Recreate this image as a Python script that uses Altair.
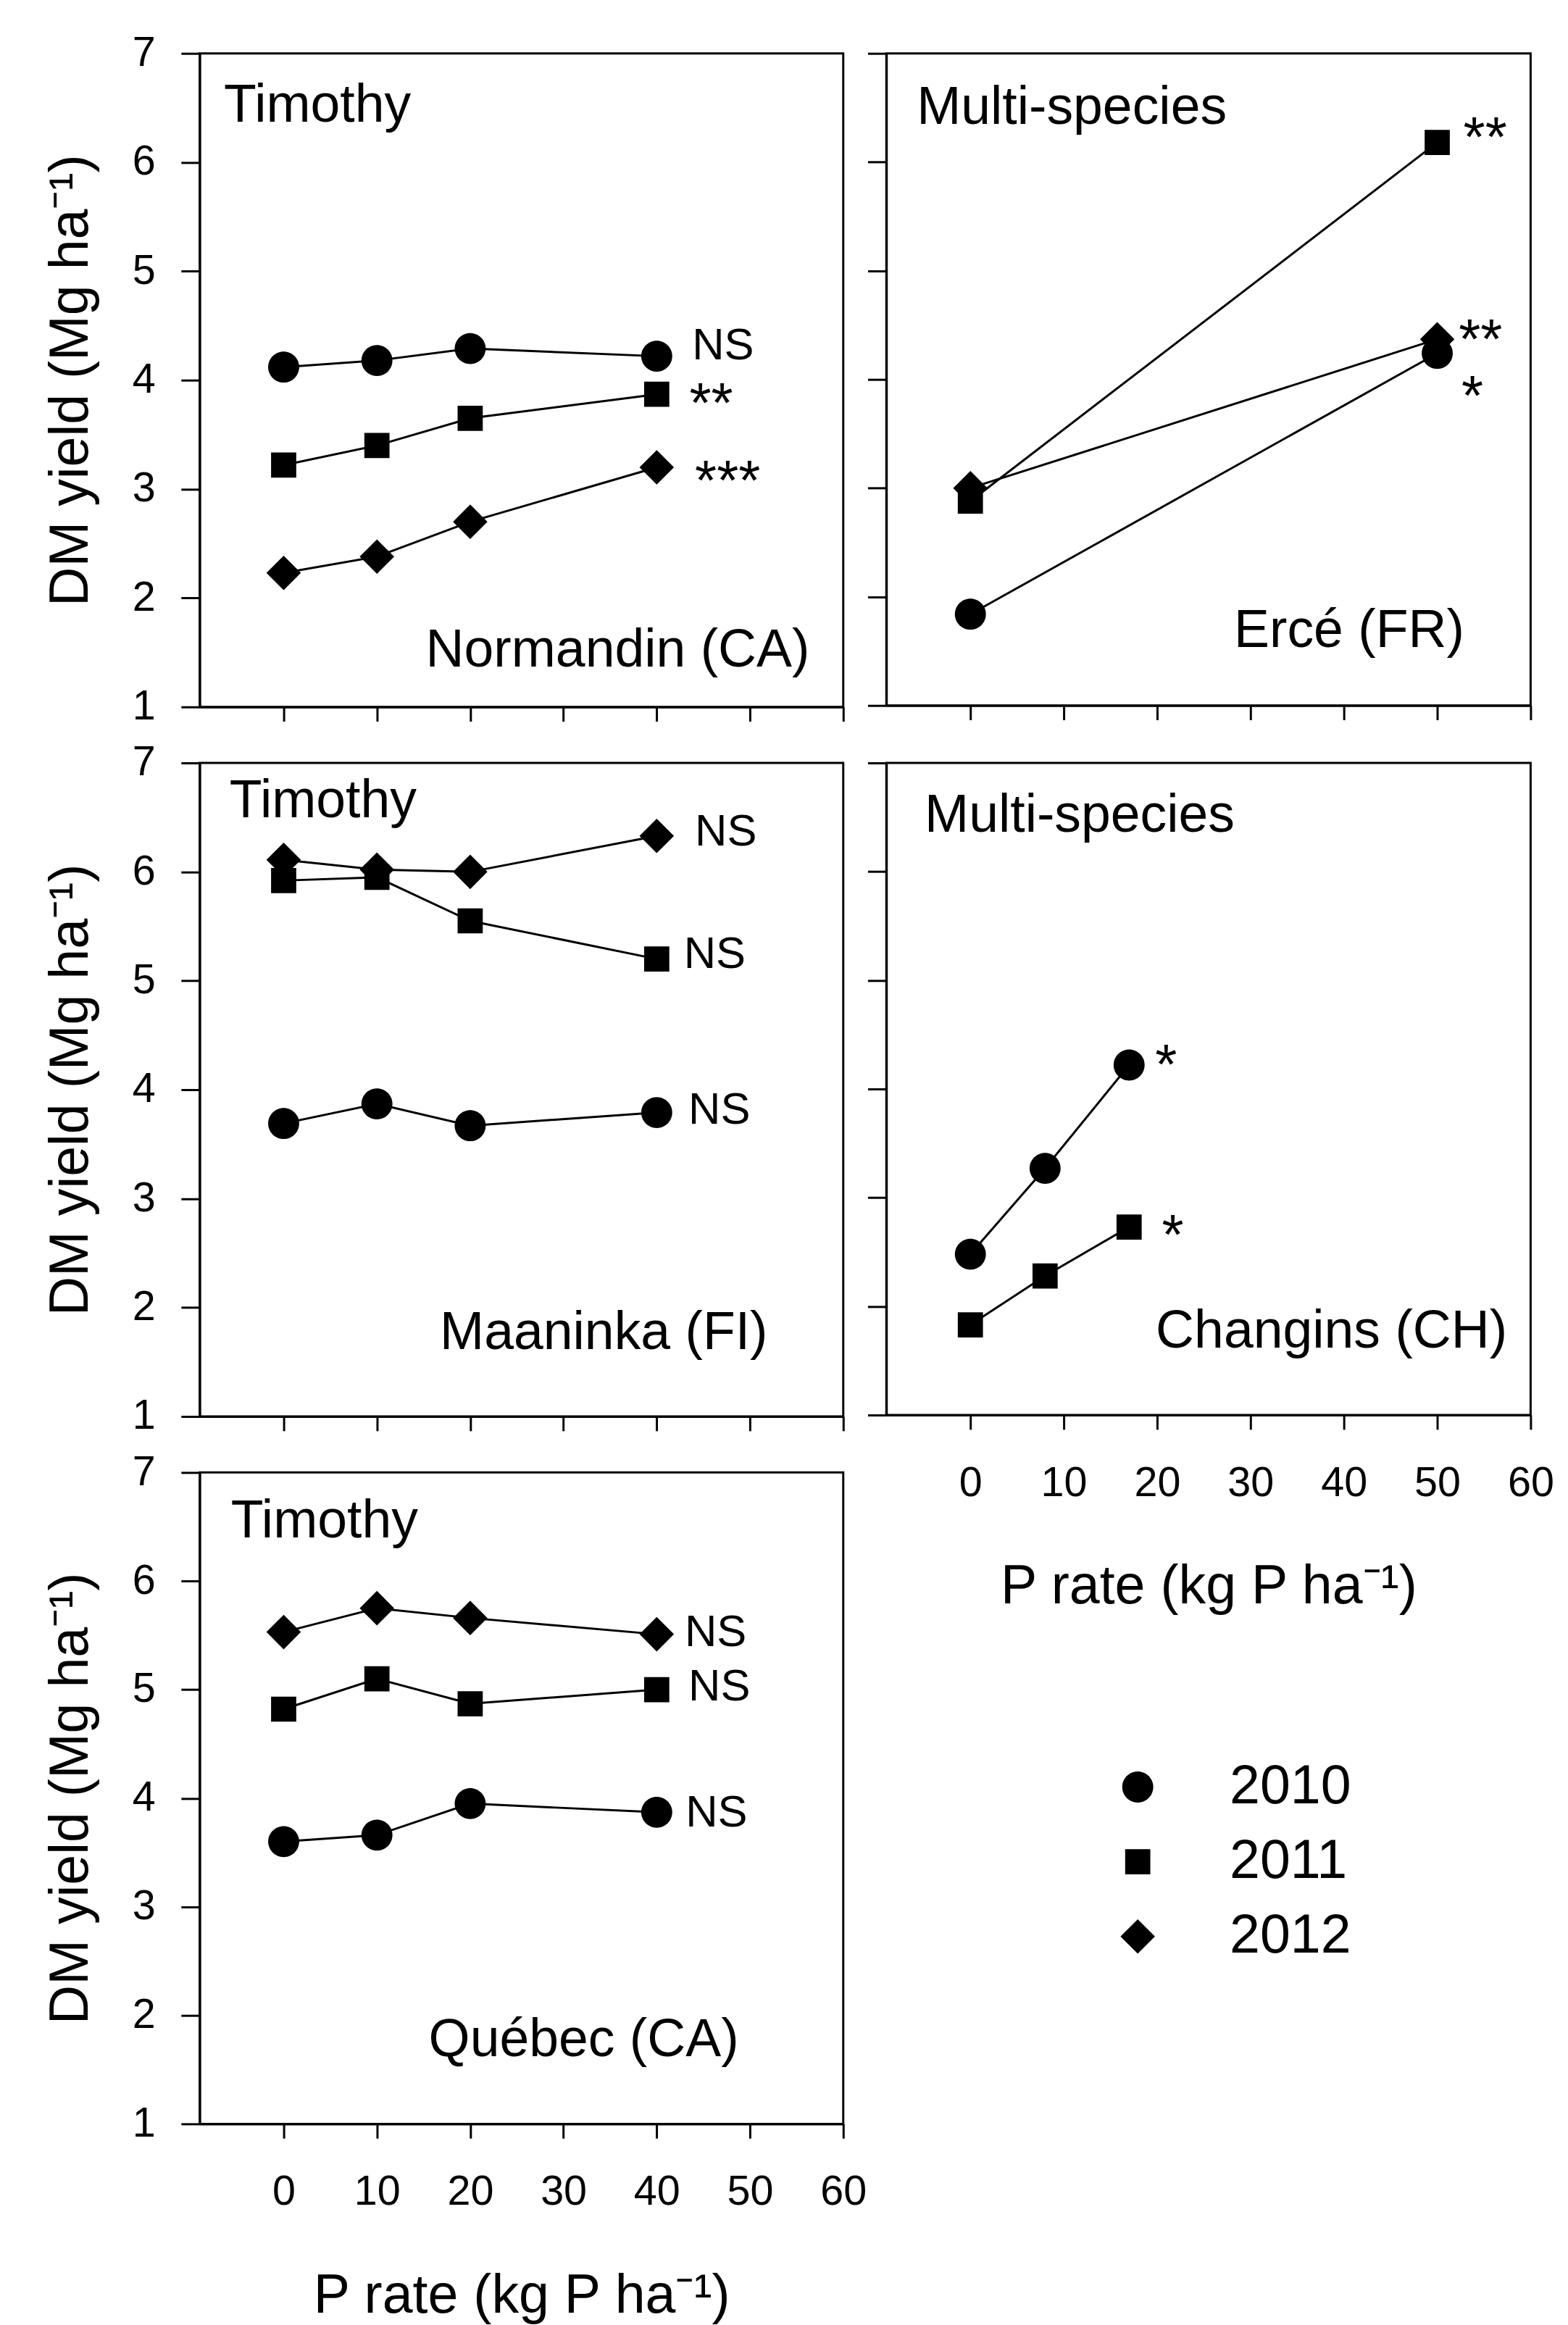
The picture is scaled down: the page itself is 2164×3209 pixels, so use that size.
import altair as alt
import pandas as pd

FONT = "Liberation Sans"
years = ["2010", "2011", "2012"]

# Normandin (CA) - Timothy
norm_p = [0, 10, 20, 40]
norm_2010 = [4.12, 4.18, 4.29, 4.22]
norm_2011 = [3.22, 3.40, 3.65, 3.87]
norm_2012 = [2.23, 2.38, 2.70, 3.20]
norm_sig = ["NS", "**", "***"]
norm_sig_x = [43.8, 43.5, 44.1]
norm_sig_y = [4.19, 3.61, 2.90]

# Ercé (FR) - Multi-species
erce_p = [0, 50]
erce_2010 = [1.84, 4.24]
erce_2011 = [2.88, 6.18]
erce_2012 = [3.00, 4.37]
erce_sig = ["*", "**", "**"]
erce_sig_x = [52.6, 52.8, 52.3]
erce_sig_y = [3.67, 6.05, 4.19]

# Maaninka (FI) - Timothy
maan_p = [0, 10, 20, 40]
maan_2010 = [3.69, 3.87, 3.67, 3.79]
maan_2011 = [5.92, 5.95, 5.55, 5.20]
maan_2012 = [6.11, 6.02, 6.00, 6.33]
maan_sig = ["NS", "NS", "NS"]
maan_sig_x = [43.4, 42.9, 44.1]
maan_sig_y = [3.69, 5.12, 6.24]

# Changins (CH) - Multi-species
chan_p = [0, 8, 17]
chan_2010 = [2.48, 3.27, 4.22]
chan_2011 = [1.83, 2.28, 2.73]
chan_sig = ["*", "*"]
chan_sig_x = [19.8, 20.5]
chan_sig_y = [4.05, 2.48]

# Québec (CA) - Timothy
queb_p = [0, 10, 20, 40]
queb_2010 = [3.60, 3.66, 3.95, 3.87]
queb_2011 = [4.82, 5.10, 4.87, 5.00]
queb_2012 = [5.53, 5.75, 5.66, 5.51]
queb_sig = ["NS", "NS", "NS"]
queb_sig_x = [43.1, 43.4, 43.0]
queb_sig_y = [3.74, 4.90, 5.40]

x_ticks = [0, 10, 20, 30, 40, 50, 60]
y_ticks = [1, 2, 3, 4, 5, 6, 7]
x_title = "P rate (kg P ha\u207b\u00b9)"
y_title = "DM yield (Mg ha\u207b\u00b9)"

# shapes: circle (smaller), square, diamond (full box)
circle_path = "M0.9,0A0.9,0.9,0,1,1,-0.9,0A0.9,0.9,0,1,1,0.9,0Z"
square_path = "M-0.73,-0.73L0.73,-0.73L0.73,0.73L-0.73,0.73Z"
shape_range = [circle_path, square_path, "diamond"]


def panel(p, series, sig, sig_x, sig_y, species, sp_x, sp_y, site, site_x, site_y,
          w, h, xlabels, ylabels):
    rows = []
    for yr, vals in series:
        for pi, v in zip(p, vals):
            rows.append({"P": pi, "DM": v, "year": yr})
    df = pd.DataFrame(rows)
    ann = pd.DataFrame({"x": sig_x, "y": sig_y, "t": sig})
    sp = pd.DataFrame({"x": [sp_x], "y": [sp_y], "t": [species]})
    st = pd.DataFrame({"x": [site_x], "y": [site_y], "t": [site]})

    if xlabels:
        xaxis = alt.Axis(values=x_ticks, labels=True, title=x_title, grid=False,
                         labelFlush=False)
    else:
        xaxis = alt.Axis(values=x_ticks, labels=False, title=None, grid=False,
                         labelFlush=False)
    if ylabels:
        yaxis = alt.Axis(values=y_ticks, labels=True, title=y_title, grid=False,
                         labelFlush=False)
    else:
        yaxis = alt.Axis(values=y_ticks, labels=False, title=None, grid=False,
                         labelFlush=False)
    xs = alt.Scale(domain=[-9, 60], nice=False, zero=False)
    ys = alt.Scale(domain=[1, 7], nice=False, zero=False)

    def X(f):
        return alt.X(f + ":Q", scale=xs, axis=xaxis)

    def Y(f):
        return alt.Y(f + ":Q", scale=ys, axis=yaxis)

    base = alt.Chart(df)
    lines = base.mark_line(color="black", strokeWidth=3).encode(
        x=X("P"), y=Y("DM"), detail="year:N")
    pts = base.mark_point(filled=True, color="black", opacity=1, size=2304,
                          strokeWidth=0).encode(
        x=X("P"), y=Y("DM"),
        shape=alt.Shape("year:N", scale=alt.Scale(domain=years, range=shape_range),
                        legend=alt.Legend(title=None)))
    t_ann = alt.Chart(ann).mark_text(align="left", baseline="alphabetic",
                                     font=FONT, color="black").encode(
        x=X("x"), y=Y("y"), text="t:N",
        size=alt.condition(alt.datum.t == "NS", alt.value(62), alt.value(78)))
    t_sp = alt.Chart(sp).mark_text(align="left", baseline="alphabetic",
                                   font=FONT, fontSize=74, color="black").encode(
        x=X("x"), y=Y("y"), text="t:N")
    t_st = alt.Chart(st).mark_text(align="right", baseline="alphabetic",
                                   font=FONT, fontSize=74, color="black").encode(
        x=X("x"), y=Y("y"), text="t:N")
    return alt.layer(lines, pts, t_ann, t_sp, t_st).properties(width=w, height=h)


p1 = panel(norm_p, [("2010", norm_2010), ("2011", norm_2011), ("2012", norm_2012)],
           norm_sig, norm_sig_x, norm_sig_y, "Timothy", -6.4, 6.37,
           "Normandin (CA)", 56.4, 1.37, 896, 910, False, True)
p2 = panel(erce_p, [("2010", erce_2010), ("2011", erce_2011), ("2012", erce_2012)],
           erce_sig, erce_sig_x, erce_sig_y, "Multi-species", -5.75, 6.35,
           "Ercé (FR)", 52.9, 1.54, 897, 908, False, False)
p3 = panel(maan_p, [("2010", maan_2010), ("2011", maan_2011), ("2012", maan_2012)],
           maan_sig, maan_sig_x, maan_sig_y, "Timothy", -5.8, 6.50,
           "Maaninka (FI)", 51.9, 1.62, 896, 910, False, True)
p4 = panel(chan_p, [("2010", chan_2010), ("2011", chan_2011)],
           chan_sig, chan_sig_x, chan_sig_y, "Multi-species", -4.9, 6.37,
           "Changins (CH)", 57.5, 1.62, 897, 908, True, False)
p5 = panel(queb_p, [("2010", queb_2010), ("2011", queb_2011), ("2012", queb_2012)],
           queb_sig, queb_sig_x, queb_sig_y, "Timothy", -5.65, 6.40,
           "Québec (CA)", 48.8, 1.62, 896, 907, True, True)

chart = alt.concat(
    p1, p2, p3, p4, p5, columns=2, bounds="flush",
    spacing=alt.RowColnumber(row=78, column=60),
).properties(
    padding={"left": 51, "top": 21, "right": 10, "bottom": 10},
    background="white",
).configure_view(
    stroke="black", strokeWidth=3
).configure_axis(
    domainColor="black", domainWidth=3, tickColor="black", tickWidth=3,
    labelFont=FONT, labelFontSize=58, labelColor="black",
    titleFont=FONT, titleFontSize=76, titleFontWeight="normal", titleColor="black",
    grid=False, labelOverlap=False,
).configure_axisX(
    tickSize=20, labelPadding=46, titlePadding=78
).configure_axisY(
    tickSize=26, labelPadding=36, titlePadding=46
).configure_legend(
    orient="none", legendX=1268, legendY=2376, padding=0,
    labelFont=FONT, labelFontSize=76, labelColor="black", labelLimit=0,
    symbolSize=2304, symbolFillColor="black", symbolStrokeWidth=0,
    labelOffset=90, rowPadding=28,
)

chart.save("out.html", embed_options={"renderer": "svg", "actions": False})
